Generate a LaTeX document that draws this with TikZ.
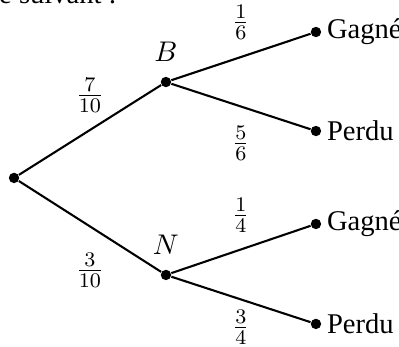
\documentclass[tikz,border=0pt]{standalone}
\usepackage{fontspec}
\setmainfont{Liberation Serif}
\usepackage{tikz}
\usetikzlibrary{positioning}
\tikzset{
  dot/.style={circle, fill=black, inner sep=0pt, minimum size=4pt},
  branch/.style={line width=0.8pt},
  prob/.style={inner sep=0pt},
  event/.style={inner sep=0pt},
  outcome/.style={anchor=west, inner sep=0pt},
}

\begin{document}
\begin{tikzpicture}[x=1cm,y=1cm,font=\fontsize{11}{13}\selectfont]
  \useasboundingbox (0,0) rectangle (5.40,4.695);
  \clip (0,0) rectangle (5.40,4.695);

  % cut-off sentence above the tree
  \node[anchor=base east, inner sep=0pt] (intro) at (1.585,4.641) {l'arbre suivant :};

  % nodes
  \node[dot] (root) at (0.19,2.287) {};
  \node[dot] (b) at (2.246,3.585) {};
  \node[dot] (n) at (2.246,0.974) {};
  \node[dot] (bg) at (4.276,4.262) {};
  \node[dot] (bp) at (4.276,2.922) {};
  \node[dot] (ng) at (4.276,1.664) {};
  \node[dot] (np) at (4.276,0.311) {};

  % branches
  \draw[branch] (root) -- (b);
  \draw[branch] (root) -- (n);
  \draw[branch] (b) -- (bg);
  \draw[branch] (b) -- (bp);
  \draw[branch] (n) -- (ng);
  \draw[branch] (n) -- (np);

  % events
  \node[event] (lb) at (2.246,3.99) {$B$};
  \node[event] (ln) at (2.246,1.38) {$N$};
  \node[outcome] (tbg) at (4.42,4.262) {Gagné};
  \node[outcome] (tbp) at (4.42,2.922) {Perdu};
  \node[outcome] (tng) at (4.42,1.664) {Gagné};
  \node[outcome] (tnp) at (4.42,0.311) {Perdu};

  % probabilities
  \node[prob] (p1) at (1.218,3.41) {$\frac{7}{10}$};
  \node[prob] (p2) at (1.218,1.042) {$\frac{3}{10}$};
  \node[prob] (p3) at (3.26,4.397) {$\frac{1}{6}$};
  \node[prob] (p4) at (3.26,2.76) {$\frac{5}{6}$};
  \node[prob] (p5) at (3.26,1.786) {$\frac{1}{4}$};
  \node[prob] (p6) at (3.26,0.27) {$\frac{3}{4}$};
\end{tikzpicture}
\end{document}
